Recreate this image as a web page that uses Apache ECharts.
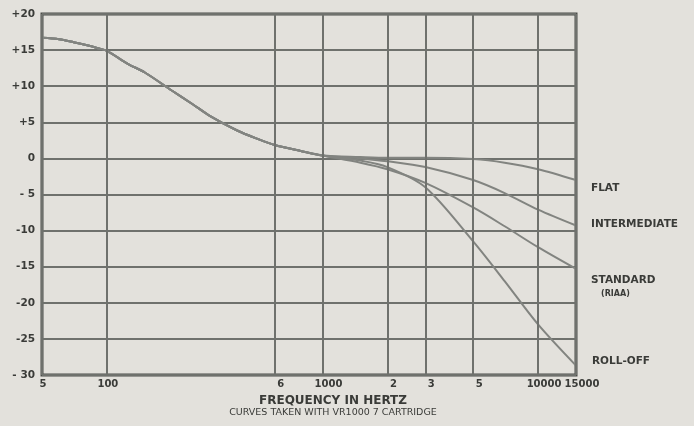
<!DOCTYPE html>
<html><head><meta charset="utf-8">
<script src="https://cdn.jsdelivr.net/npm/echarts@6/dist/echarts.min.js"></script>
<style>html,body{margin:0;padding:0;background:#e3e1dc}#c{width:694px;height:426px}</style>
</head><body><div id="c"></div>
<script>
// ---- data ----
const commonFreq = [50, 60, 70, 80, 90, 100, 125, 150, 200, 250, 300, 400, 500, 600, 800];
const commonDb   = [16.7, 16.5, 16.1, 15.7, 15.3, 14.9, 13.1, 11.9, 9.4, 7.5, 5.9, 3.9, 2.7, 1.85, 1.0];
const hiFreq = [1000, 1500, 2000, 3000, 5000, 7000, 10000, 15000];
const flatDb         = [0.4, 0.2, 0.1, 0.1, -0.1, -0.6, -1.5, -3.0];
const intermediateDb = [0.4, 0.0, -0.4, -1.2, -3.0, -4.8, -7.1, -9.3];
const standardDb     = [0.4, -0.6, -1.5, -3.4, -6.8, -9.4, -12.3, -15.3];
const rollOffDb      = [0.4, -0.3, -1.2, -4.0, -11.5, -17.0, -23.0, -28.7];
const seriesNames = ['FLAT', 'INTERMEDIATE', 'STANDARD', 'ROLL-OFF'];
const freqTicks = [50, 100, 600, 1000, 2000, 3000, 5000, 10000, 15000];
const freqTickLabels = ['5', '100', '6', '1000', '2', '3', '5', '10000', '15000'];
const dbTicks = [20, 15, 10, 5, 0, -5, -10, -15, -20, -25, -30];
const dbTickLabels = ['+20', '+15', '+10', '+5', '0', '- 5', '-10', '-15', '-20', '-25', '- 30'];
const xTitle = 'FREQUENCY IN HERTZ';
const xSubtitle = 'CURVES TAKEN WITH VR1000 7 CARTRIDGE';

// ---- build ----
const FONT = 'DejaVu Sans';
const INK = '#3a3b38';
const GRID = '#6f716d';
const CURVE = '#828480';
function build(hi) {
  const d = commonFreq.map((f, i) => [f, commonDb[i]]);
  return d.concat(hiFreq.map((f, i) => [f, hi[i]]));
}
const hiSets = [flatDb, intermediateDb, standardDb, rollOffDb];
const endCfg = [
  {offset: [0, 8], fmt: '{a|FLAT}'},
  {offset: [0, -1], fmt: '{a|INTERMEDIATE}'},
  {offset: [0, 18], fmt: '{a|STANDARD}\n{b|(RIAA)}'},
  {offset: [1, -4], fmt: '{a|ROLL-OFF}'}
];
const lineSeries = hiSets.map((hi, k) => ({
  type: 'line', name: seriesNames[k], data: build(hi),
  smooth: 0.3, symbol: 'none', z: 3,
  lineStyle: {color: CURVE, width: 2},
  endLabel: {
    show: true, distance: 15, offset: endCfg[k].offset,
    formatter: endCfg[k].fmt,
    rich: {
      a: {fontFamily: FONT, fontWeight: 'bold', fontSize: 10.5, color: INK, lineHeight: 15},
      b: {fontFamily: FONT, fontWeight: 'bold', fontSize: 8, color: INK, lineHeight: 14, padding: [0, 0, 0, 10]}
    }
  }
}));
const gridLineSeries = {
  type: 'line', data: [], z: 1, silent: true,
  markLine: {
    silent: true, symbol: 'none', animation: false,
    lineStyle: {color: GRID, width: 2, type: 'solid'},
    label: {show: true, position: 'start', distance: 4, fontFamily: FONT, fontWeight: 'bold',
            fontSize: 10, color: INK},
    data: freqTicks.map((f, i) => ({
      xAxis: f, name: freqTickLabels[i],
      label: {formatter: freqTickLabels[i], padding: (i < 2) ? [0, 0, 0, 2] : [0, 0, 0, 12]}
    }))
  }
};

const chart = echarts.init(document.getElementById('c'), null, {renderer: 'canvas'});
chart.setOption({
  backgroundColor: '#e3e1dc',
  animation: false,
  title: {
    text: xTitle, subtext: xSubtitle, left: 333, top: 395, textAlign: 'center', itemGap: 1, padding: 0,
    textStyle: {fontFamily: FONT, fontWeight: 'bold', fontSize: 12, color: INK},
    subtextStyle: {fontFamily: FONT, fontWeight: 'normal', fontSize: 9.5, color: INK}
  },
  grid: {left: 42, right: 118, top: 14, bottom: 51, show: true, borderColor: '#4b4d49', borderWidth: 3,
         backgroundColor: 'transparent'},
  xAxis: {
    type: 'log', logBase: 10, min: 50, max: 15000,
    axisLine: {show: false}, axisTick: {show: false}, axisLabel: {show: false}, splitLine: {show: false},
    minorTick: {show: false}, minorSplitLine: {show: false}
  },
  yAxis: {
    type: 'value', min: -30, max: 20, interval: 5,
    axisLine: {show: false}, axisTick: {show: false},
    splitLine: {show: true, lineStyle: {color: GRID, width: 2}},
    axisLabel: {
      margin: 7, fontFamily: FONT, fontWeight: 'bold', fontSize: 10.5, color: INK,
      formatter: v => { const i = dbTicks.indexOf(v); return i >= 0 ? dbTickLabels[i] : ''; }
    }
  },
  series: [gridLineSeries].concat(lineSeries)
});
</script></body></html>
